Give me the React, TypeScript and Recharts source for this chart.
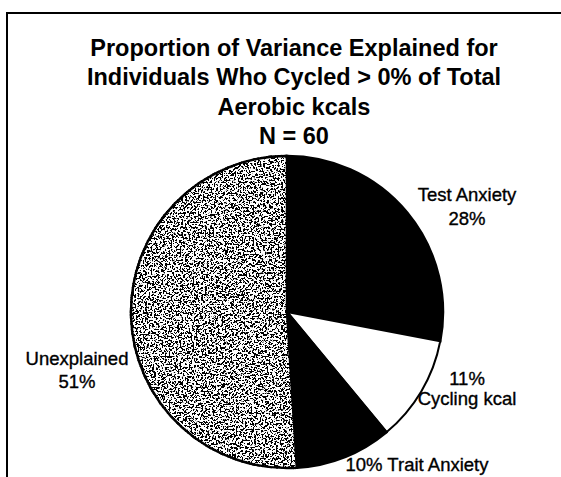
import { PieChart, Pie, Cell } from 'recharts';

const categories = ['Test Anxiety', 'Cycling kcal', 'Trait Anxiety', 'Unexplained'];
const shares = [28, 11, 10, 51];
const fills = ['#000', '#fff', '#000', '#fff'];
const titleLines = [
  'Proportion of Variance Explained for',
  'Individuals Who Cycled > 0% of Total',
  'Aerobic kcals',
  'N = 60',
];

const data = categories.map((name, i) => ({ name, value: shares[i] }));

// where each label sits relative to the pie centre, and how its lines are ordered
const labelSpots = [
  { dx: 180, dy: -111, gap: 24, order: 'name-pct' },
  { dx: 180, dy: 73, gap: 20, order: 'pct-name' },
  { dx: 130, dy: 159, gap: 0, order: 'inline' },
  { dx: -210, dy: 53, gap: 23, order: 'name-pct' },
];

const font = '"Liberation Sans", Arial, Helvetica, sans-serif';

const renderLabel = (props: any) => {
  const { cx, cy, index, name, value } = props;
  const spot = labelSpots[index];
  const pct = `${value}%`;
  const lines =
    spot.order === 'inline' ? [`${pct} ${name}`] : spot.order === 'pct-name' ? [pct, name] : [name, pct];
  return (
    <g key={`lbl-${index}`}>
      {lines.map((t, j) => (
        <text
          key={j}
          x={cx + spot.dx}
          y={cy + spot.dy + j * spot.gap}
          textAnchor="middle"
          fontFamily={font}
          fontSize={18.5}
          fill="#000"
          stroke="#000"
          strokeWidth={0.35}
        >
          {t}
        </text>
      ))}
    </g>
  );
};

export default function App() {
  return (
    <div style={{ position: 'absolute', left: 0, top: 0, width: 561, height: 477, background: '#fff', overflow: 'hidden' }}>
      <div style={{ position: 'absolute', left: 6, top: 12, right: 0, bottom: 0, borderTop: '2px solid #000', borderLeft: '2px solid #000' }} />
      <div
        style={{
          position: 'absolute',
          left: 44,
          top: 34,
          width: 500,
          textAlign: 'center',
          fontFamily: font,
          fontWeight: 'bold',
          fontSize: 23.5,
          lineHeight: '29.3px',
          color: '#000',
        }}
      >
        {titleLines.map((l, i) => (
          <div key={i}>{l}</div>
        ))}
      </div>
      <div style={{ position: 'absolute', left: 0, top: 0 }}>
        <PieChart width={561} height={477} margin={{ top: 0, right: 0, bottom: 0, left: 0 }}>
          <defs>
            <filter id="grainFx" x="-5%" y="-5%" width="110%" height="110%">
              <feTurbulence type="fractalNoise" baseFrequency="0.55" numOctaves="4" seed="11" result="noise" />
              <feColorMatrix
                in="noise"
                type="matrix"
                values="0 0 0 0 0  0 0 0 0 0  0 0 0 0 0  -30 0 0 0 14.7"
                result="dots"
              />
              <feComposite in="dots" in2="SourceGraphic" operator="in" result="clipped" />
              <feMerge>
                <feMergeNode in="SourceGraphic" />
                <feMergeNode in="clipped" />
              </feMerge>
            </filter>
          </defs>
          <Pie
            data={data}
            dataKey="value"
            nameKey="name"
            cx={287}
            cy={312}
            outerRadius={156}
            startAngle={90}
            endAngle={-270}
            stroke="#000"
            strokeWidth={2}
            label={renderLabel}
            labelLine={false}
            isAnimationActive={false}
          >
            {data.map((d, i) => (
              <Cell
                key={`cell-${i}`}
                fill={fills[i]}
                stroke="#000"
                strokeWidth={i === 1 ? 2 : 2.5}
                filter={i === 3 ? 'url(#grainFx)' : undefined}
              />
            ))}
          </Pie>
        </PieChart>
      </div>
    </div>
  );
}
